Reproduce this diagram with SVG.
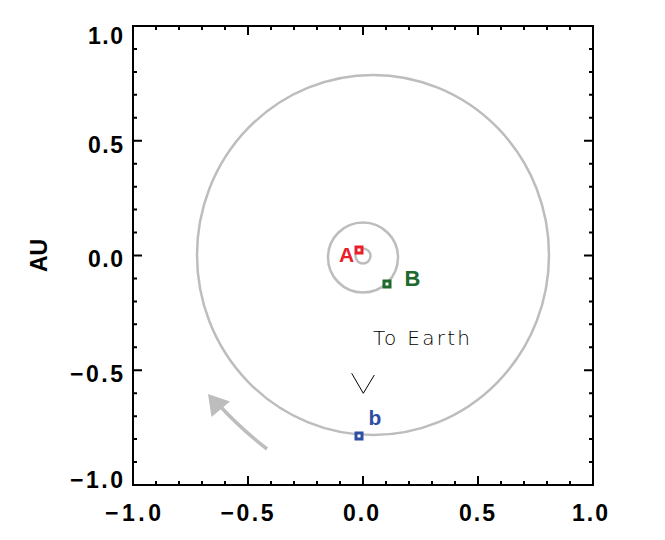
<svg xmlns="http://www.w3.org/2000/svg" width="665" height="540" viewBox="0 0 665 540">
<style>
.lab{font-family:"Liberation Sans",Arial,sans-serif;font-weight:bold;font-size:23px;fill:#000}
.tk{stroke:#000;stroke-width:2;fill:none}
.orb{fill:none;stroke:#bdbdbd;stroke-width:2.5}
.mk{stroke-width:3;fill:#fff}
</style>
<rect width="665" height="540" fill="#fff"/>
<g id="axes">
<rect x="133" y="26" width="460" height="459" fill="none" stroke="#000" stroke-width="2"/>
<path class="tk" d="M156 485v-4M179 485v-4M202 485v-4M225 485v-4M271 485v-4M294 485v-4M317 485v-4M340 485v-4M386 485v-4M409 485v-4M432 485v-4M455 485v-4M501 485v-4M524 485v-4M547 485v-4M570 485v-4M248 485v-9M363 485v-9M478 485v-9
M156 26v4M179 26v4M202 26v4M225 26v4M271 26v4M294 26v4M317 26v4M340 26v4M386 26v4M409 26v4M432 26v4M455 26v4M501 26v4M524 26v4M547 26v4M570 26v4M248 26v9M363 26v9M478 26v9
M133 48.95h4M133 71.9h4M133 94.85h4M133 117.8h4M133 163.7h4M133 186.65h4M133 209.6h4M133 232.55h4M133 278.45h4M133 301.4h4M133 324.35h4M133 347.3h4M133 393.2h4M133 416.15h4M133 439.1h4M133 462.05h4M133 140.75h9M133 255.5h9M133 370.25h9
M593 48.95h-4M593 71.9h-4M593 94.85h-4M593 117.8h-4M593 163.7h-4M593 186.65h-4M593 209.6h-4M593 232.55h-4M593 278.45h-4M593 301.4h-4M593 324.35h-4M593 347.3h-4M593 393.2h-4M593 416.15h-4M593 439.1h-4M593 462.05h-4M593 140.75h-9M593 255.5h-9M593 370.25h-9"/>
<g class="lab" text-anchor="end">
<text x="123" y="44" textLength="35" lengthAdjust="spacing">1.0</text>
<text x="123" y="152.5" textLength="35" lengthAdjust="spacing">0.5</text>
<text x="123" y="267" textLength="35" lengthAdjust="spacing">0.0</text>
<text x="123" y="382" textLength="53" lengthAdjust="spacing">−0.5</text>
<text x="123" y="488" textLength="53" lengthAdjust="spacing">−1.0</text>
</g>
<g class="lab" text-anchor="middle">
<text x="133" y="521" textLength="56" lengthAdjust="spacing">−1.0</text>
<text x="247" y="521" textLength="53" lengthAdjust="spacing">−0.5</text>
<text x="361" y="521" textLength="36" lengthAdjust="spacing">0.0</text>
<text x="477" y="521" textLength="36" lengthAdjust="spacing">0.5</text>
<text x="590" y="521" textLength="36" lengthAdjust="spacing">1.0</text>
</g>
<text class="lab" transform="translate(47 255.5) rotate(-90)" text-anchor="middle" font-size="19">AU</text>
</g>
<g id="orbits">
<ellipse class="orb" cx="373" cy="255" rx="176" ry="180"/>
<circle class="orb" cx="363" cy="257.5" r="35"/>
<circle class="orb" cx="363" cy="256" r="7.5"/>
</g>
<g id="stereoA">
<rect class="mk" x="356" y="247" width="6" height="6" stroke="#e8202a"/>
<text class="lab" x="346.5" y="262" text-anchor="middle" style="fill:#e8202a;font-size:21px">A</text>
</g>
<g id="stereoB">
<rect class="mk" x="384" y="281" width="6" height="6" stroke="#1e6a2c"/>
<text class="lab" x="412.5" y="285.5" text-anchor="middle" style="fill:#1e6a2c;font-size:22px">B</text>
</g>
<g id="spacecraftb">
<rect class="mk" x="356" y="433" width="6" height="6" stroke="#2c4ea3"/>
<text class="lab" x="375" y="425" text-anchor="middle" style="fill:#2c4ea3;font-size:21px">b</text>
</g>
<g id="toEarth">
<text x="373" y="345" font-family="'DejaVu Sans',sans-serif" font-weight="200" font-size="20" textLength="97" lengthAdjust="spacing" fill="#000">To Earth</text>
<polyline points="351.7,373.3 363.3,393.3 374.3,375" fill="none" stroke="#000" stroke-width="1"/>
</g>
<g id="connectors">
<path d="M267 449 Q240 428 219 405" fill="none" stroke="#bdbdbd" stroke-width="3.5"/>
<polygon points="208,394 211.5,417 230,401.5" fill="#bdbdbd"/>
</g>
</svg>
